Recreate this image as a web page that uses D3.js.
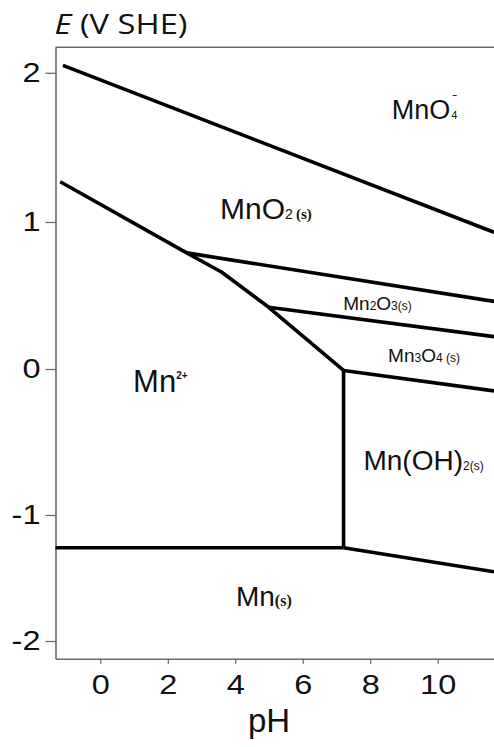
<!DOCTYPE html>
<html>
<head>
<meta charset="utf-8">
<script src="https://cdn.jsdelivr.net/npm/d3@7"></script>
<style>
  html, body { margin: 0; padding: 0; background: #fff; }
  svg { display: block; }
</style>
</head>
<body>
<svg id="chart" width="494" height="747"></svg>
<script>
// Pourbaix diagram of manganese: phase boundaries as [pH, E (V vs SHE)] points
const boundaryMnO4_MnO2   = [[-1.11, 2.05], [11.67, 0.93]];
const boundaryMn2_Oxides  = [[-1.19, 1.27], [2.56, 0.79], [3.59, 0.66], [4.99, 0.42], [7.21, -0.01]];
const boundaryMnO2_Mn2O3  = [[2.56, 0.79], [11.67, 0.46]];
const boundaryMn2O3_Mn3O4 = [[4.99, 0.42], [11.67, 0.22]];
const boundaryMn3O4_MnOH2 = [[7.21, -0.01], [11.67, -0.15]];
const boundaryMn2_MnOH2   = [[7.21, -0.01], [7.21, -1.26]];
const boundaryMn2_Mn      = [[-1.33, -1.26], [7.21, -1.26]];
const boundaryMnOH2_Mn    = [[7.21, -1.26], [11.67, -1.45]];

const boundaries = [
  boundaryMnO4_MnO2, boundaryMn2_Oxides, boundaryMnO2_Mn2O3, boundaryMn2O3_Mn3O4,
  boundaryMn3O4_MnOH2, boundaryMn2_MnOH2, boundaryMn2_Mn, boundaryMnOH2_Mn
];

// Axis ticks
const pHTicks = [0, 2, 4, 6, 8, 10];
const eTicks  = [-2, -1, 0, 1, 2];

// Species names with the (pH, E) point where each name starts
const speciesNames = ["MnO4-", "MnO2(s)", "Mn2O3(s)", "Mn3O4(s)", "Mn2+", "Mn(OH)2(s)", "Mn(s)"];
const speciesAt    = [[8.64, 1.69], [3.55, 1.02], [7.20, 0.40], [8.53, 0.05], [0.97, -0.16], [7.80, -0.69], [4.02, -1.72]];

const svg = d3.select("#chart");
const SANS = "'Liberation Sans', Arial, sans-serif";
const SERIF = "'Liberation Serif', 'Times New Roman', serif";

const x = d3.scaleLinear().domain([-1.33, 11.67]).range([55.5, 494]);
// the vertical axis of this figure is not evenly spaced, so the scale is piecewise
const y = d3.scaleLinear()
  .domain([-2.14, -2, -1, 0, 1, 2, 2.171])
  .range([658.7, 641, 515, 369, 222, 72.8, 47.3]);

const axisColor = "#6a6a6a";
const plainNumber = d => String(d);

// y axis
const gy = svg.append("g")
  .attr("transform", `translate(${x.range()[0]},0)`)
  .call(d3.axisLeft(y).tickValues(eTicks).tickFormat(plainNumber)
    .tickSize(10).tickSizeOuter(0).tickPadding(5));
// x axis
const gx = svg.append("g")
  .attr("transform", `translate(0,${y.range()[0]})`)
  .call(d3.axisBottom(x).tickValues(pHTicks).tickFormat(plainNumber)
    .tickSize(5).tickSizeOuter(0).tickPadding(10));

[gx, gy].forEach(g => {
  g.select(".domain").attr("stroke", axisColor).attr("stroke-width", 1.6);
  g.selectAll(".tick line").attr("stroke", axisColor).attr("stroke-width", 1.3);
  g.selectAll(".tick text")
    .attr("fill", "#111")
    .style("font-family", SANS)
    .style("font-size", "28px")
    // the tick numerals are set slightly wide
    .each(function () {
      const w = this.getComputedTextLength();
      d3.select(this).attr("textLength", w * 1.16).attr("lengthAdjust", "spacingAndGlyphs");
    });
});

// top frame line
const yTop = y.range()[y.range().length - 1];
svg.append("line")
  .attr("x1", x.range()[0]).attr("x2", x.range()[1])
  .attr("y1", yTop).attr("y2", yTop)
  .attr("stroke", axisColor).attr("stroke-width", 1.6);

// boundaries
const line = d3.line().x(d => x(d[0])).y(d => y(d[1]));
svg.append("g")
  .selectAll("path")
  .data(boundaries)
  .join("path")
  .attr("d", line)
  .attr("fill", "none")
  .attr("stroke", "#000")
  .attr("stroke-width", 3.6)
  .attr("stroke-linejoin", "round");

// axis titles
const title = svg.append("text")
  .attr("x", x.range()[0] - 1)
  .attr("y", 34)
  .attr("fill", "#111")
  .attr("textLength", 133)
  .attr("lengthAdjust", "spacingAndGlyphs")
  .style("font-family", "'Open Sans', Lato, sans-serif")
  .style("font-size", "27px");
title.append("tspan").style("font-style", "italic").text("E");
title.append("tspan").text(" (V SHE)");

svg.append("text")
  .attr("x", (x(4) + x(6)) / 2)
  .attr("y", 731.5)
  .attr("text-anchor", "middle")
  .attr("fill", "#111")
  .style("font-family", SANS)
  .style("font-size", "33px")
  .text("pH");

// species labels: each is a list of [text, size, baseline shift, family, weight, dx]
const labelParts = {
  "MnO4-":      [["MnO", 27, 0, SANS, 400], ["4", 11, 0, SANS, 400, 1], ["\u2212", 8, -21, SANS, 700, -5]],
  "MnO2(s)":    [["MnO", 30, 0, SANS, 400], ["2", 14, 0, SANS, 400], ["\u2009(s)", 15, 0, SERIF, 700]],
  "Mn2O3(s)":   [["Mn", 19, 0, SANS, 400], ["2", 12, 0, SANS, 400], ["O", 19, 0, SANS, 400], ["3(s)", 12, 0, SANS, 400]],
  "Mn3O4(s)":   [["Mn", 19, 0, SANS, 400], ["3", 12, 0, SANS, 400], ["O", 19, 0, SANS, 400], ["4 (s)", 12, 0, SANS, 400]],
  "Mn2+":       [["Mn", 31, 0, SANS, 400], ["2+", 10, -13, SANS, 700]],
  "Mn(OH)2(s)": [["Mn(OH)", 28, 0, SANS, 400], ["2(s)", 12, 0, SANS, 400]],
  "Mn(s)":      [["Mn", 28, 0, SANS, 400], ["(s)", 16, 0, SERIF, 700]]
};

speciesNames.forEach((name, i) => {
  const [px, e] = speciesAt[i];
  const t = svg.append("text")
    .attr("x", x(px))
    .attr("y", y(e))
    .attr("fill", "#111");
  let prevShift = 0;
  labelParts[name].forEach(([txt, size, shift, fam, weight, dx]) => {
    t.append("tspan")
      .attr("dy", shift - prevShift)
      .attr("dx", dx || 0)
      .style("font-size", size + "px")
      .style("font-family", fam)
      .style("font-weight", weight)
      .text(txt);
    prevShift = shift;
  });
});
</script>
</body>
</html>
